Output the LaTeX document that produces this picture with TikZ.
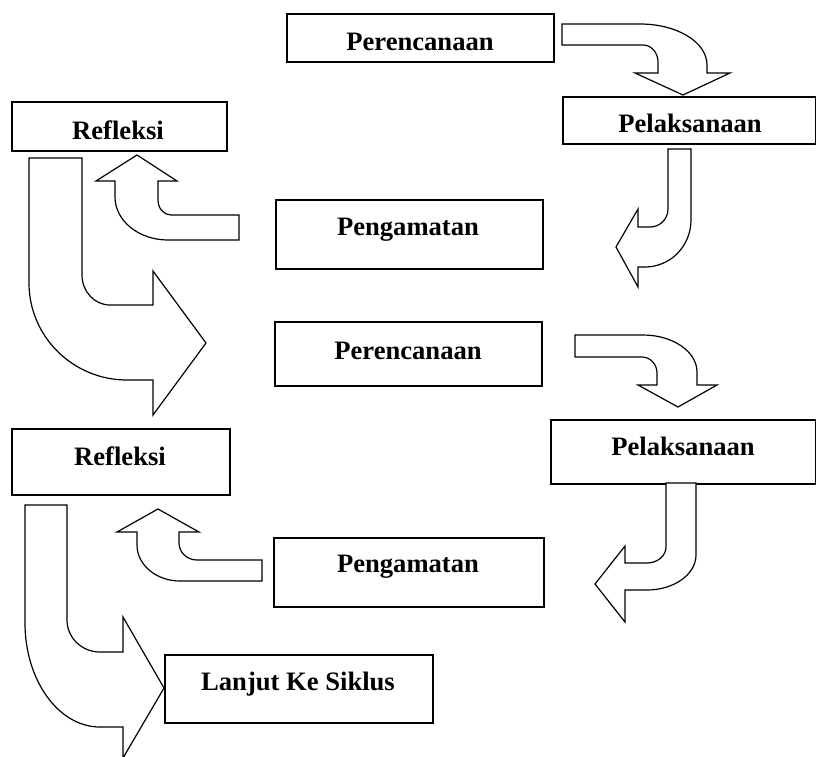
\documentclass[tikz,border=0pt]{standalone}
\usepackage{fontspec}
\setmainfont{Liberation Serif}
\tikzset{
  box/.style={draw, line width=1.6pt, inner sep=0pt, anchor=north west},
  lbl/.style={font=\bfseries\fontsize{26.6}{30}\selectfont, anchor=base, inner sep=0pt},
  blockarrow/.style={draw, fill=white, line width=1.2pt, line join=miter},
}
\begin{document}
\begin{tikzpicture}[x=1pt,y=-1pt]
\fill[white] (0,0) rectangle (816,756);
\useasboundingbox (0,0) rectangle (816,756);
% boxes
\node[box, minimum width=267pt, minimum height=48pt] (P1) at (286,13) {};
\node[box, minimum width=253pt, minimum height=47pt] (L1) at (562,96) {};
\node[box, minimum width=215pt, minimum height=49pt] (R1) at (11,101) {};
\node[box, minimum width=267pt, minimum height=69pt] (G1) at (275,199) {};
\node[box, minimum width=267pt, minimum height=64pt] (P2) at (274,321) {};
\node[box, minimum width=265pt, minimum height=64pt] (L2) at (550,419) {};
\node[box, minimum width=218pt, minimum height=66pt] (R2) at (11,428) {};
\node[box, minimum width=270pt, minimum height=69pt] (G2) at (273,537) {};
\node[box, minimum width=268pt, minimum height=68pt] (LK) at (164,654) {};
% labels
\node[lbl] (tP1) at (420,50) {Perencanaan};
\node[lbl] (tL1) at (690,132) {Pelaksanaan};
\node[lbl] (tR1) at (118,139) {Refleksi};
\node[lbl] (tG1) at (408,235) {Pengamatan};
\node[lbl] (tP2) at (408,359) {Perencanaan};
\node[lbl] (tL2) at (683,455) {Pelaksanaan};
\node[lbl] (tR2) at (120,465) {Refleksi};
\node[lbl] (tG2) at (408,572) {Pengamatan};
\node[lbl] (tLK) at (298,690) {Lanjut Ke Siklus};
% block arrows
\draw[blockarrow] (562,24) -- (640,24) .. controls (677,24) and (707,42) .. (707,65) -- (707,73) -- (730,73) -- (683,95) -- (635,73) -- (658,73) -- (658,62) .. controls (658,52.6) and (651.3,45) .. (643,45) -- (562,45) -- cycle;
\draw[blockarrow] (668,149) -- (691,149) -- (691,220) .. controls (691,246) and (670.4,267) .. (645,267) -- (638,267) -- (638,287) -- (616,247) -- (638,209) -- (638,227) -- (650,227) .. controls (660,227) and (668,219) .. (668,209) -- cycle;
\draw[blockarrow] (239,215) -- (239,240) -- (168,240) .. controls (138.7,240) and (115,220.7) .. (115,197) -- (115,181) -- (96,181) -- (137,155) -- (177,181) -- (158,181) -- (158,200) .. controls (158,208.3) and (163.8,215) .. (171,215) -- cycle;
\draw[blockarrow] (29,158) -- (82,158) -- (82,275) .. controls (82,291.6) and (94.5,305) .. (110,305) -- (153,305) -- (153,271) -- (206,343) -- (153,415) -- (153,380) -- (127,380) .. controls (72.9,380) and (29,336.5) .. (29,283) -- cycle;
\draw[blockarrow] (575,335) -- (643,335) .. controls (672.8,335) and (697,351.6) .. (697,372) -- (697,385) -- (717,385) -- (678,407) -- (638,385) -- (657,385) -- (657,373) .. controls (657,364.2) and (650.3,357) .. (642,357) -- (575,357) -- cycle;
\draw[blockarrow] (666,483) -- (696,483) -- (696,555) .. controls (696,574.3) and (674,590) .. (647,590) -- (625,590) -- (625,622) -- (595,584) -- (625,546) -- (625,563) -- (647,563) .. controls (657.5,563) and (666,555.8) .. (666,547) -- cycle;
\draw[blockarrow] (262,560) -- (262,581) -- (180,581) .. controls (156.3,581) and (137,564.9) .. (137,545) -- (137,532) -- (117,532) -- (158,509) -- (199,532) -- (179,532) -- (179,543) .. controls (179,552.4) and (187.1,560) .. (197,560) -- cycle;
\draw[blockarrow] (25,505) -- (67,505) -- (67,620) .. controls (67,637.7) and (81.8,652) .. (100,652) -- (123,652) -- (123,617) -- (164,688) -- (123,758) -- (123,727) -- (100,727) .. controls (58.6,727) and (25,680.4) .. (25,623) -- cycle;
\end{tikzpicture}
\end{document}
